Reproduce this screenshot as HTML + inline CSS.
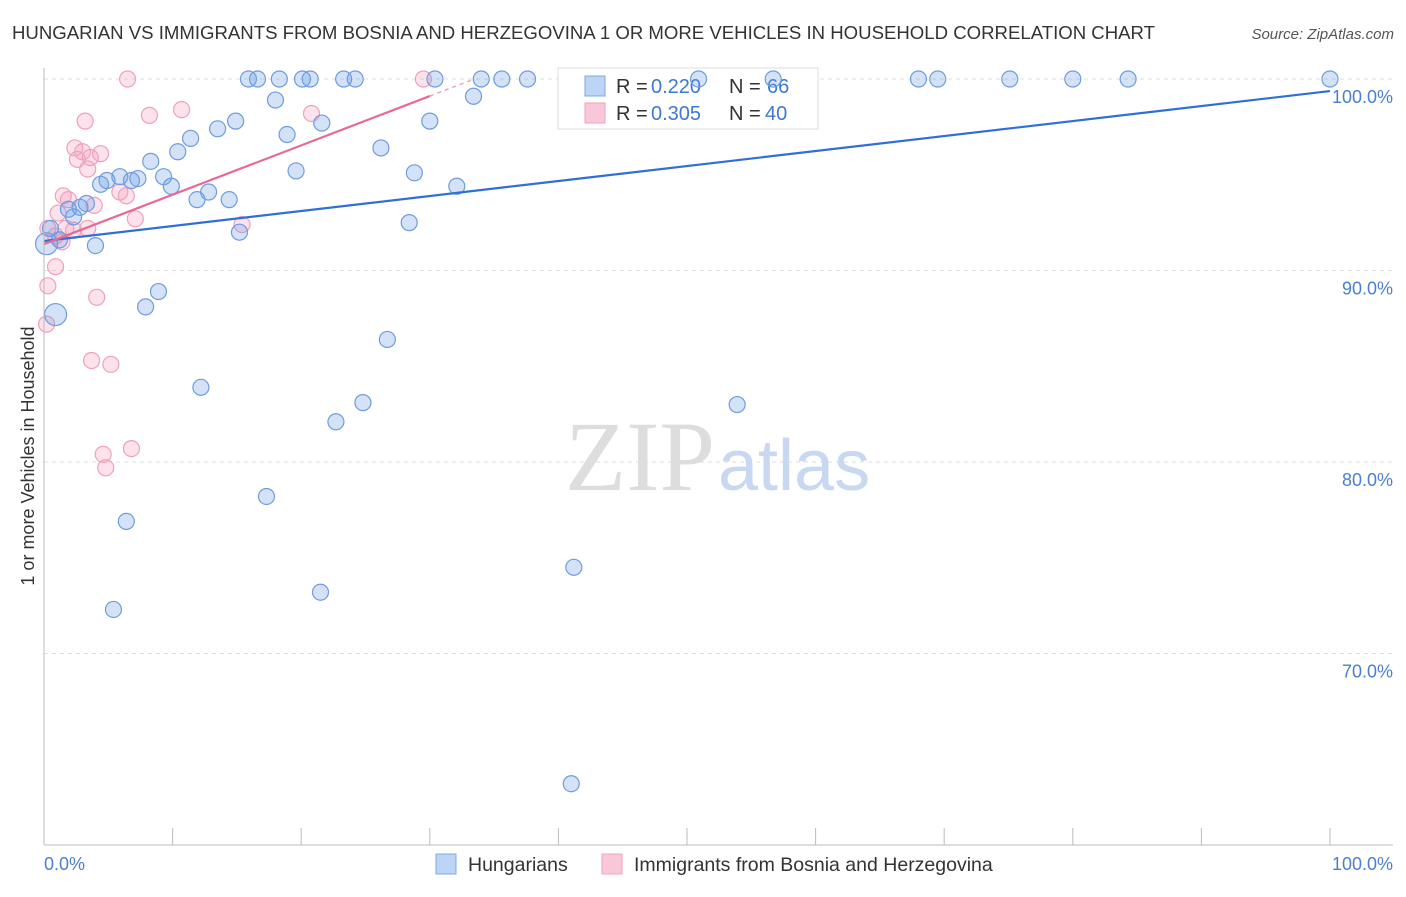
<!DOCTYPE html>
<html><head><meta charset="utf-8"><style>
body{margin:0;background:#fff;font-family:"Liberation Sans",sans-serif;}
</style></head><body>
<svg width="1406" height="892" viewBox="0 0 1406 892" xmlns="http://www.w3.org/2000/svg" font-family="Liberation Sans, sans-serif">
<text x="12" y="39" font-size="18.6" fill="#333">HUNGARIAN VS IMMIGRANTS FROM BOSNIA AND HERZEGOVINA 1 OR MORE VEHICLES IN HOUSEHOLD CORRELATION CHART</text>
<text x="1394" y="39" font-size="15" fill="#555" text-anchor="end" font-style="italic">Source: ZipAtlas.com</text>
<g id="grid"></g>
<text x="715" y="490" font-size="100" fill="#ddd" style="font-family:'Liberation Serif',serif" text-anchor="end">ZIP</text>
<text x="718" y="490" font-size="72" fill="#c8d8f0">atlas</text>
<g>
<rect x="558" y="68" width="260" height="61" fill="#fff" stroke="#ddd"/>
<rect x="585" y="76" width="20" height="20" fill="#bcd4f5" stroke="#7fa8e0"/>
<rect x="585" y="103" width="20" height="20" fill="#f9c8d8" stroke="#f0a0bc"/>
<text x="616" y="93" font-size="20" fill="#333">R =</text>
<text x="651" y="93" font-size="20" fill="#3f78d0">0.220</text>
<text x="729" y="93" font-size="20" fill="#333">N =</text>
<text x="767" y="93" font-size="20" fill="#3f78d0">66</text>
<text x="616" y="120" font-size="20" fill="#333">R =</text>
<text x="651" y="120" font-size="20" fill="#3f78d0">0.305</text>
<text x="729" y="120" font-size="20" fill="#333">N =</text>
<text x="765" y="120" font-size="20" fill="#3f78d0">40</text>
</g>
<g id="pts"></g>
<g id="lines"></g>
<line x1="44" y1="68" x2="44" y2="845" stroke="#bbb"/>
<line x1="44" y1="845" x2="1393" y2="845" stroke="#bbb"/>
<text x="34" y="456" font-size="18" fill="#333" text-anchor="middle" transform="rotate(-90 34 456)">1 or more Vehicles in Household</text>
<text x="44" y="870" font-size="18" fill="#4a7fd0">0.0%</text>
<text x="1393" y="870" font-size="18" fill="#4a7fd0" text-anchor="end">100.0%</text>
<g>
<rect x="436" y="854" width="20" height="20" fill="#bcd4f5" stroke="#7fa8e0"/>
<text x="468" y="871" font-size="19.5" fill="#333">Hungarians</text>
<rect x="602" y="854" width="20" height="20" fill="#f9c8d8" stroke="#f0a0bc"/>
<text x="634" y="871" font-size="19.5" fill="#333">Immigrants from Bosnia and Herzegovina</text>
</g>
</svg>
<script>
const yTicks=[100,90,80,70];
const xTickVals=[0,10,20,30,40,50,60,70,80,90,100];
const blueX=[15.9,16.6,18.3,20.1,20.7,23.3,24.2,30.4,34.0,35.6,37.6,50.9,56.7,68.0,69.5,75.1,80.0,84.3,100,18.0,33.4,21.6,30.0,13.5,14.9,18.9,11.4,10.4,8.3,26.2,19.6,28.8,9.3,5.9,4.9,7.3,6.8,4.4,9.9,32.1,12.8,11.9,14.4,3.3,2.8,1.9,2.3,28.4,15.2,0.5,1.2,0.2,4.0,8.9,7.9,0.9,26.7,12.2,24.8,22.7,53.9,17.3,6.4,41.2,21.5,5.4,41.0];
const blueY=[100,100,100,100,100,100,100,100,100,100,100,100,100,100,100,100,100,100,100,98.9,99.1,97.7,97.8,97.4,97.8,97.1,96.9,96.2,95.7,96.4,95.2,95.1,94.9,94.9,94.7,94.8,94.7,94.5,94.4,94.4,94.1,93.7,93.7,93.5,93.3,93.2,92.8,92.5,92.0,92.2,91.6,91.4,91.3,88.9,88.1,87.7,86.4,83.9,83.1,82.1,83.0,78.2,76.9,74.5,73.2,72.3,63.2];
const bigBlue=[51,55];
const pinkX=[6.5,29.5,10.7,8.2,20.8,3.2,2.4,3.0,2.6,3.6,4.4,3.4,1.5,1.9,5.9,6.4,3.9,7.1,1.1,15.4,0.3,1.7,2.3,3.4,0.9,1.4,0.9,0.3,4.1,0.2,3.7,5.2,4.6,6.8,4.8];
const pinkY=[100,100,98.4,98.1,98.2,97.8,96.4,96.2,95.8,95.9,96.1,95.3,93.9,93.7,94.1,93.9,93.4,92.7,93.0,92.4,92.2,92.2,92.1,92.2,91.8,91.5,90.2,89.2,88.6,87.2,85.3,85.1,80.4,80.7,79.7];
const blueLine=[91.54,99.37];
const pinkLine=[91.38,99.11,30];
const NS="http://www.w3.org/2000/svg";
const X=v=>44+v*12.86, Y=v=>79+(100-v)*19.15;
function mk(t,a,p){const e=document.createElementNS(NS,t);for(const k in a)e.setAttribute(k,a[k]);p.appendChild(e);return e;}
const grid=document.getElementById('grid');
yTicks.forEach(v=>{
 const l=mk('line',{x1:44,x2:1393,y1:Y(v),y2:Y(v),stroke:'#ddd','stroke-dasharray':'4 4'},grid);
 
 
 const t=mk('text',{x:1393,y:Y(v)+24,'font-size':18,fill:'#4a7fd0','text-anchor':'end'},grid);
 t.textContent=v.toFixed(1)+'%';
 
 
});
xTickVals.forEach(v=>{
 const l=mk('line',{x1:X(v),x2:X(v),y1:828,y2:845,stroke:'#bbb'},grid);
 
 
});
const pts=document.getElementById('pts');
pinkX.forEach((x,i)=>{
 const c=mk('circle',{cx:X(x),cy:Y(pinkY[i]),r:8,fill:'rgba(244,160,190,0.3)',stroke:'#f0a0bc','stroke-width':1.2},pts);
 
 
});
blueX.forEach((x,i)=>{
 const c=mk('circle',{cx:X(x),cy:Y(blueY[i]),r:bigBlue.includes(i)?11:8,fill:'rgba(110,160,230,0.3)',stroke:'#6f9be0','stroke-width':1.2},pts);
 
 
});
const lines=document.getElementById('lines');
const bl=mk('line',{x1:X(0),y1:Y(blueLine[0]),x2:X(100),y2:Y(blueLine[1]),stroke:'#2f6fd6','stroke-width':2.2},lines);


const pl=mk('line',{x1:X(0),y1:Y(pinkLine[0]),x2:X(pinkLine[2]),y2:Y(pinkLine[1]),stroke:'#e76a96','stroke-width':2.2},lines);


const s=(pinkLine[1]-pinkLine[0])/pinkLine[2];
const xe=(100-pinkLine[0])/s;
const pd=mk('line',{x1:X(pinkLine[2]),y1:Y(pinkLine[1]),x2:X(xe),y2:Y(100),stroke:'#f0a0bc','stroke-width':1.5,'stroke-dasharray':'4 4'},lines);


</script>
</body></html>
